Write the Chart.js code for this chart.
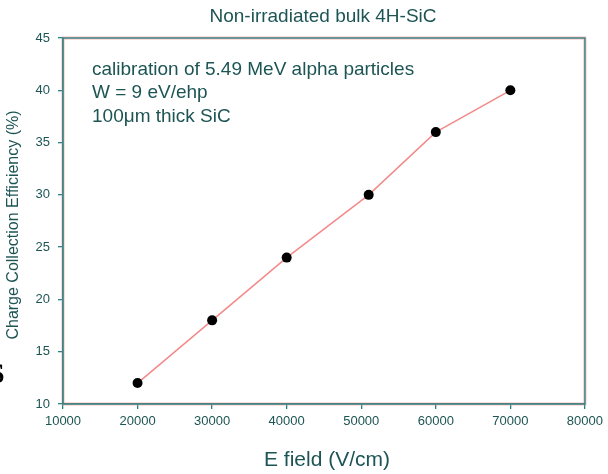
<!DOCTYPE html>
<html><head><meta charset="utf-8">
<script src="https://cdn.jsdelivr.net/npm/chart.js@4"></script>
<style>html,body{margin:0;padding:0;background:#fff}</style>
</head><body><canvas id="c" width="608" height="474" style="width:608px;height:474px;display:block"></canvas>
<script>
const chartTitle = 'Non-irradiated bulk 4H-SiC';
const xAxisTitle = 'E field (V/cm)';
const yAxisTitle = 'Charge Collection Efficiency (%)';
const annotationLines = ['calibration of 5.49 MeV alpha particles', 'W = 9 eV/ehp', '100\u03bcm thick SiC'];
const eField = [20000, 30000, 40000, 51000, 60000, 70000];
const cce = [12, 18, 24, 30, 36, 40];
const xTicks = [10000, 20000, 30000, 40000, 50000, 60000, 70000, 80000];
const yTicks = [10, 15, 20, 25, 30, 35, 40, 45];

const textColor = '#1d5454';
const axisColor = '#1f8484';
const FONT = "'Liberation Sans', Arial, sans-serif";

const framePlugin = {
  id: 'frame',
  beforeDatasetsDraw(chart) {
    const { ctx, chartArea: a } = chart;
    ctx.save();
    ctx.strokeStyle = 'rgba(240,130,130,0.55)';
    ctx.lineWidth = 3;
    ctx.strokeRect(a.left, a.top, a.right - a.left, a.bottom - a.top);
    ctx.strokeStyle = axisColor;
    ctx.lineWidth = 1.3;
    ctx.strokeRect(a.left, a.top, a.right - a.left, a.bottom - a.top);
    ctx.restore();
  }
};

const textPlugin = {
  id: 'texts',
  afterDraw(chart) {
    const { ctx } = chart;
    ctx.save();
    ctx.fillStyle = textColor;
    ctx.textAlign = 'center';
    ctx.textBaseline = 'alphabetic';
    ctx.font = '19px ' + FONT;
    ctx.fillText(chartTitle, 323, 22);
    ctx.font = '21px ' + FONT;
    ctx.fillText(xAxisTitle, 327, 466);
    ctx.textAlign = 'left';
    ctx.font = '19px ' + FONT;
    const base = [75, 98, 122];
    annotationLines.forEach((t, i) => ctx.fillText(t, 92, base[i]));
    ctx.save();
    ctx.translate(18, 225);
    ctx.rotate(-Math.PI / 2);
    ctx.textAlign = 'center';
    ctx.font = '16px ' + FONT;
    ctx.fillText(yAxisTitle, 0, 0);
    ctx.restore();
    ctx.fillStyle = '#000';
    ctx.textAlign = 'left';
    ctx.font = 'bold 30px "Liberation Serif", serif';
    ctx.fillText('S', -12, 383);
    ctx.restore();
  }
};

new Chart(document.getElementById('c'), {
  type: 'line',
  data: {
    datasets: [{
      data: eField.map((x, i) => ({ x: x, y: cce[i] })),
      borderColor: '#f28a8a',
      borderWidth: 1.5,
      pointRadius: 5,
      pointBackgroundColor: '#000',
      pointBorderColor: '#000',
      pointBorderWidth: 0,
      tension: 0,
      clip: false
    }]
  },
  options: {
    responsive: false,
    animation: false,
    devicePixelRatio: 1,
    layout: { padding: { left: 0, top: 38, right: 22, bottom: 0 } },
    plugins: { legend: { display: false }, tooltip: { enabled: false }, title: { display: false } },
    scales: {
      x: {
        type: 'linear', min: 10000, max: 80000,
        afterBuildTicks: s => { s.ticks = xTicks.map(v => ({ value: v })); },
        afterFit: s => { s.height = 70; },
        ticks: { color: textColor, font: { family: FONT, size: 13 }, padding: 5, maxRotation: 0, autoSkip: false, callback: v => String(v) },
        grid: { drawOnChartArea: false, drawTicks: true, tickLength: 5, color: axisColor, lineWidth: 1.3 },
        border: { color: axisColor, width: 1.3 }
      },
      y: {
        type: 'linear', min: 10, max: 45,
        afterBuildTicks: s => { s.ticks = yTicks.map(v => ({ value: v })); },
        afterFit: s => { s.width = 63; },
        ticks: { color: textColor, font: { family: FONT, size: 13 }, padding: 8, autoSkip: false, callback: v => String(v) },
        grid: { drawOnChartArea: false, drawTicks: true, tickLength: 5, color: axisColor, lineWidth: 1.3 },
        border: { color: axisColor, width: 1.3 }
      }
    }
  },
  plugins: [framePlugin, textPlugin]
});
</script>
</body></html>
